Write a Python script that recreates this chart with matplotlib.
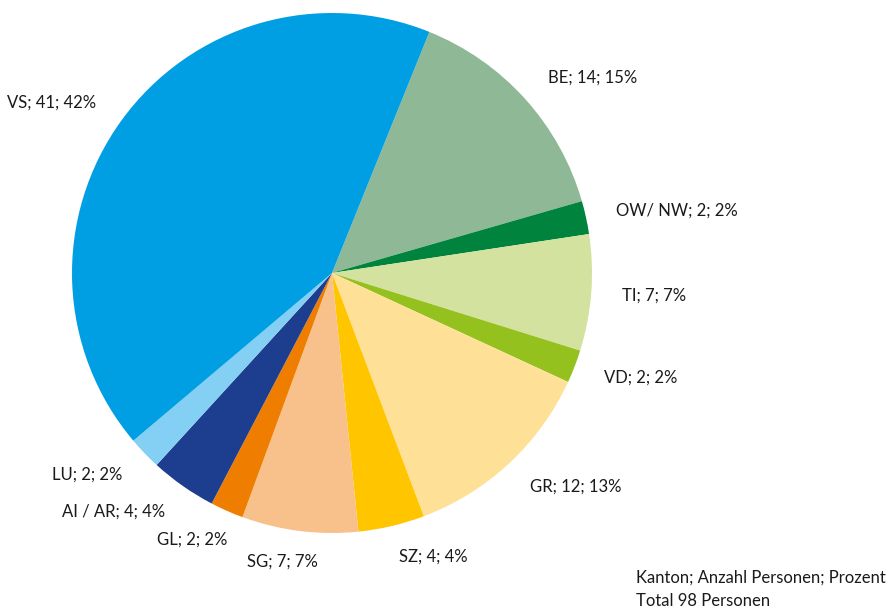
import matplotlib.pyplot as plt

# Kanton; Anzahl Personen; Prozent
kantone = ["BE", "OW/ NW", "TI", "VD", "GR", "SZ", "SG", "GL", "AI / AR", "LU", "VS"]
anzahl = [14, 2, 7, 2, 12, 4, 7, 2, 4, 2, 41]
prozent = [15, 2, 7, 2, 13, 4, 7, 2, 4, 2, 42]
farben = ["#8FB996", "#00843D", "#D3E29F", "#95C11F", "#FEE196", "#FFC600",
          "#F8C08B", "#EF7D00", "#1D3E8E", "#84CFF4", "#009FE3"]

labels = [f"{k}; {n}; {p}%" for k, n, p in zip(kantone, anzahl, prozent)]

plt.rcParams["font.family"] = ["Lato", "DejaVu Sans"]

fig = plt.figure(figsize=(8.87, 6.10), dpi=100)
ax = fig.add_axes([(332 - 260) / 887, (610 - 273 - 260) / 610, 520 / 887, 520 / 610])

wedges, texts = ax.pie(anzahl, labels=labels, colors=farben, startangle=68,
                       counterclock=False, labeldistance=1.12,
                       textprops={"fontsize": 12, "color": "#1a1a1a"})
ax.set_xlim(-1, 1)
ax.set_ylim(-1, 1)

# labels near the bottom sit a bit further right in the original
for i, dx in [(6, 0.085), (7, 0.05)]:
    x, y = texts[i].get_position()
    texts[i].set_position((x + dx, y))

fig.text(636 / 887, 1 - 578 / 610, "Kanton; Anzahl Personen; Prozent", fontsize=12,
         color="#1a1a1a", va="center", ha="left")
fig.text(636 / 887, 1 - 601 / 610, "Total 98 Personen", fontsize=12,
         color="#1a1a1a", va="center", ha="left")

fig.savefig("out.png", dpi=100)
